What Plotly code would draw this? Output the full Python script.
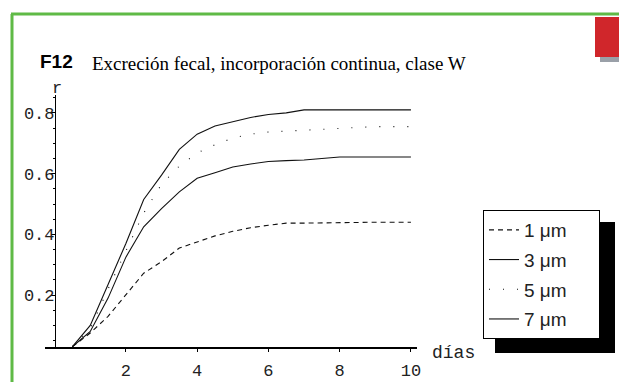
import plotly.graph_objects as go

days = [0.5, 1, 1.5, 2, 2.5, 3, 3.5, 4, 4.5, 5, 5.5, 6, 6.5, 7, 7.5, 8, 9, 10]
r_1um = [0.03, 0.075, 0.13, 0.20, 0.272, 0.31, 0.355, 0.375, 0.395, 0.41, 0.422, 0.43, 0.437, 0.437, 0.438, 0.44, 0.44, 0.44]
r_3um = [0.03, 0.08, 0.19, 0.325, 0.425, 0.485, 0.54, 0.585, 0.603, 0.622, 0.632, 0.64, 0.643, 0.645, 0.65, 0.655, 0.655, 0.655]
r_5um = [0.03, 0.09, 0.22, 0.345, 0.47, 0.565, 0.625, 0.668, 0.695, 0.717, 0.73, 0.737, 0.74, 0.745, 0.748, 0.75, 0.755, 0.755]
r_7um = [0.03, 0.10, 0.235, 0.37, 0.515, 0.595, 0.68, 0.73, 0.757, 0.772, 0.785, 0.795, 0.80, 0.81, 0.81, 0.81, 0.81, 0.81]
series_names = ["1 μm", "3 μm", "5 μm", "7 μm"]
series_dash = ["5px,4px", "solid", "1px,13px", "solid"]
x_ticks = [2, 4, 6, 8, 10]
y_ticks = [0.2, 0.4, 0.6, 0.8]

PAD = "\u00a0" * 5  # blank room after each legend label, as in the reference box

fig = go.Figure()
for name, vals, dash in zip(series_names, [r_1um, r_3um, r_5um, r_7um], series_dash):
    fig.add_trace(go.Scatter(x=days, y=vals, mode="lines", name=name + PAD, legendgroup=name,
                             line=dict(color="#111111", width=1.1, dash=dash)))

# page body has an 8px margin: the figure origin sits at page (8, 8)
OFF = 8
W, H = 611, 374
# plot area in page pixels
P_L, P_R, P_T, P_B = 45, 417, 95, 347
L, T = P_L - OFF, P_T - OFF
R = W - (P_R - OFF)
B = H - (P_B - OFF)
pw, ph = P_R - P_L, P_B - P_T

def px(xp):
    return (xp - P_L) / pw

def py(yp):
    return (P_B - yp) / ph

mono = "Liberation Mono, DejaVu Sans Mono, monospace"

fig.update_layout(
    width=W, height=H,
    margin=dict(l=L, r=R, t=T, b=B, pad=0, autoexpand=False),
    paper_bgcolor="white", plot_bgcolor="white",
    showlegend=True,
    legend=dict(x=px(483), y=py(210), xanchor="left", yanchor="top",
                bgcolor="white", bordercolor="black", borderwidth=1,
                font=dict(family="Liberation Sans, Arial, sans-serif", size=19, color="#222"),
                traceorder="grouped", tracegroupgap=2, itemwidth=30),
    xaxis=dict(range=[-0.27, 10.17], tickvals=x_ticks, ticktext=[str(v) for v in x_ticks],
               automargin=False,
               showgrid=False, zeroline=False, showline=True, linecolor="black", linewidth=1.5,
               ticks="outside", ticklen=3, tickcolor="black", ticklabelstandoff=4,
               tickfont=dict(family=mono, size=17, color="#222")),
    yaxis=dict(range=[0.029, 0.859], tickvals=y_ticks, ticktext=[str(v) for v in y_ticks],
               automargin=False, anchor="free", position=px(55),
               showgrid=False, zeroline=False, showline=True, linecolor="black", linewidth=1.2,
               ticks="outside", ticklen=4, tickcolor="black", ticklabelstandoff=-7,
               minor=dict(dtick=0.05, ticks="outside", ticklen=2, tickcolor="black"),
               tickfont=dict(family=mono, size=17, color="#222")),
)

shapes = [
    # green frame
    dict(type="line", xref="paper", yref="paper", x0=px(12), x1=px(12), y0=py(14), y1=py(400),
         line=dict(color="#5fba46", width=3)),
    dict(type="line", xref="paper", yref="paper", x0=px(11), x1=px(640), y0=py(14), y1=py(14),
         line=dict(color="#5fba46", width=3)),
    # red badge with grey shadow
    dict(type="rect", xref="paper", yref="paper", x0=px(600), x1=px(640), y0=py(62), y1=py(55),
         fillcolor="#9aa0a8", line=dict(width=0)),
    dict(type="rect", xref="paper", yref="paper", x0=px(595), x1=px(640), y0=py(57), y1=py(17),
         fillcolor="#d0262b", line=dict(width=0)),
    # legend shadow
    dict(type="rect", xref="paper", yref="paper", x0=px(495), x1=px(615), y0=py(353), y1=py(222),
         fillcolor="black", line=dict(width=0)),
]
fig.update_layout(shapes=shapes)

fig.add_annotation(text="<b>F12</b>", xref="paper", yref="paper", x=px(38), y=py(61),
                   xanchor="left", yanchor="middle", showarrow=False,
                   font=dict(family="Liberation Sans, Arial, sans-serif", size=19, color="black"))
fig.add_annotation(text="Excreción fecal, incorporación continua, clase W", xref="paper", yref="paper",
                   x=px(90), y=py(63), xanchor="left", yanchor="middle", showarrow=False,
                   font=dict(family="Liberation Serif, Times New Roman, serif", size=19, color="black"))
fig.add_annotation(text="r", xref="paper", yref="paper", x=px(57), y=py(88),
                   xanchor="center", yanchor="middle", showarrow=False,
                   font=dict(family=mono, size=17, color="#222"))
fig.add_annotation(text="días", xref="paper", yref="paper", x=px(430), y=py(353),
                   xanchor="left", yanchor="middle", showarrow=False,
                   font=dict(family=mono, size=18, color="#222"))

fig.write_html("out.html")
